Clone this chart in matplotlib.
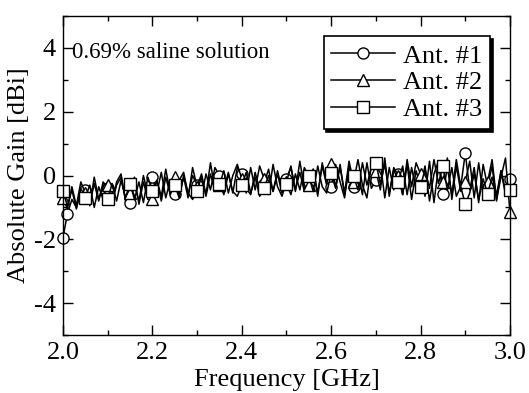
import numpy as np
import matplotlib
matplotlib.use("Agg")
import matplotlib.pyplot as plt
from matplotlib.ticker import MultipleLocator, FuncFormatter

# frequency grid [GHz], 0.01 GHz step
freq = np.linspace(2.0, 3.0, 101)

ant1 = [-1.95, -1.2, -0.75, -1.0, -0.5,
        -0.45, -0.9, -0.25, -0.8, -0.2,
        -0.4, -0.85, -0.3, -0.05, -0.75,
        -0.85, -0.3, -0.8, 0.0, -0.6,
        -0.06, -0.55, 0.1, -0.7, -0.15,
        -0.57, -0.15, 0.1, -0.6, 0.0,
        -0.3, -0.65, 0.05, -0.45, 0.25,
        0.0, -0.45, 0.1, -0.55, 0.25,
        0.05, -0.4, -0.6, 0.1, -0.45,
        -0.25, 0.2, -0.5, 0.05, -0.55,
        -0.1, 0.25, -0.45, 0.1, -0.5,
        -0.2, 0.2, -0.55, 0.3, -0.3,
        -0.35, 0.35, -0.2, -0.7, 0.3,
        -0.35, 0.15, -0.6, 0.4, -0.4,
        -0.15, 0.4, -0.7, 0.25, -0.45,
        0.05, -0.6, 0.35, -0.75, 0.15,
        -0.3, 0.3, -0.8, 0.05, 0.45,
        -0.57, 0.25, -0.6, 0.5, -0.35,
        0.7, -0.45, 0.25, -0.85, 0.35,
        -0.35, 0.3, -0.8, 0.15, -0.6,
        -0.1]

ant2 = [-0.7, -1.05, -0.35, -0.95, -0.2,
        -0.55, -0.95, -0.05, -0.75, -0.3,
        -0.3, -0.85, -0.2, 0.05, -0.8,
        -0.55, -0.05, -0.9, -0.2, -0.75,
        -0.75, -0.15, -0.65, 0.2, -0.55,
        -0.05, -0.65, -0.05, -0.7, 0.25,
        -0.35, 0.05, -0.6, 0.4, -0.45,
        -0.3, 0.15, -0.55, 0.0, 0.35,
        -0.1, -0.55, 0.25, -0.45, 0.3,
        -0.1, -0.6, 0.35, -0.35, -0.65,
        -0.2, 0.3, -0.5, 0.45, -0.4,
        -0.3, 0.2, -0.65, 0.4, -0.25,
        0.37, -0.35, 0.25, -0.55, 0.45,
        -0.2, 0.5, -0.3, -0.7, 0.35,
        0.15, -0.45, 0.55, -0.65, 0.25,
        0.0, -0.6, 0.5, -0.35, 0.4,
        0.05, -0.65, 0.45, -0.85, 0.25,
        -0.2, 0.55, -0.75, 0.3, -0.5,
        -0.2, 0.45, -0.7, 0.4, -0.6,
        -0.2, 0.5, -0.75, -0.05, 0.55,
        -1.15]

ant3 = [-0.5, -0.95, -0.45, -1.05, -0.4,
        -0.7, -0.3, -1.0, -0.35, -0.75,
        -0.75, -0.25, -0.8, -0.15, -0.7,
        -0.25, -0.75, -0.2, -0.85, -0.05,
        -0.5, -0.15, -0.8, -0.05, -0.6,
        -0.3, -0.7, 0.0, -0.55, -0.75,
        -0.47, -0.05, -0.65, 0.05, -0.5,
        -0.26, -0.6, 0.05, -0.5, -0.65,
        -0.3, 0.1, -0.55, -0.05, -0.65,
        -0.4, 0.0, -0.5, 0.15, -0.45,
        -0.25, -0.6, 0.05, -0.45, 0.25,
        -0.03, -0.5, 0.3, -0.35, -0.55,
        0.07, -0.4, 0.35, -0.6, 0.2,
        0.0, -0.45, 0.4, -0.3, 0.25,
        0.4, -0.25, 0.35, -0.55, 0.2,
        -0.2, 0.3, -0.6, 0.25, -0.45,
        -0.35, 0.2, -0.4, 0.5, -0.25,
        0.3, -0.45, 0.25, -0.65, -0.35,
        -0.9, -0.55, 0.05, -0.75, -0.1,
        -0.57, -0.05, -0.6, 0.15, -0.45,
        -0.45]

labels = ["Ant. #1", "Ant. #2", "Ant. #3"]
markers = ["o", "^", "s"]

plt.rcParams['font.family'] = ['Liberation Serif', 'DejaVu Serif']

fig = plt.figure(figsize=(5.29, 3.93), dpi=100)
ax = fig.add_axes([0.119, 0.1476, 0.845, 0.8115])

every = list(range(0, 101, 5))
mark_idx = [every[:1] + [1] + every[1:], every, every]
for y, lab, m, me in zip([ant1, ant2, ant3], labels, markers, mark_idx):
    ax.plot(freq, y, color='black', lw=1.1, marker=m, markevery=me,
            markersize=8, markerfacecolor='white', markeredgecolor='black',
            markeredgewidth=1.0, label=lab, clip_on=False)

ax.set_xlim(2.0, 3.0)
ax.set_ylim(-5, 5)
ax.xaxis.set_major_locator(MultipleLocator(0.2))
ax.xaxis.set_minor_locator(MultipleLocator(0.1))
ax.yaxis.set_major_locator(MultipleLocator(2))
ax.yaxis.set_minor_locator(MultipleLocator(1))
ax.xaxis.set_major_formatter(FuncFormatter(lambda v, p: f"{v:.1f}"))
ax.yaxis.set_major_formatter(FuncFormatter(lambda v, p: f"{v:.0f}".replace("\u2212", "-")))
ax.tick_params(which='both', direction='in', top=True, right=True, width=1.0)
ax.tick_params(which='major', length=7, labelsize=19, pad=5)
ax.tick_params(which='minor', length=3.5)
for s in ax.spines.values():
    s.set_linewidth(1.0)

ax.set_xlabel("Frequency [GHz]", fontsize=19, labelpad=4)
ax.set_ylabel("Absolute Gain [dBi]", fontsize=19, labelpad=3)

ax.text(2.02, 3.85, "0.69% saline solution", fontsize=16.5, va='center', ha='left')

leg = ax.legend(loc='upper right', bbox_to_anchor=(0.955, 0.937), fontsize=19,
                frameon=True, fancybox=False, edgecolor='black', framealpha=1,
                shadow={'color': 'black', 'alpha': 1}, handlelength=2.4,
                handletextpad=0.3, labelspacing=0.12, borderpad=0.3,
                borderaxespad=0)
leg.get_frame().set_linewidth(1.2)

fig.savefig("out.png", dpi=100)
